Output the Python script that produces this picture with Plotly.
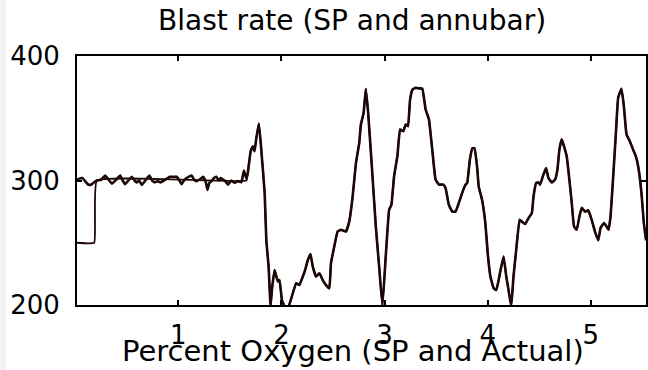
import plotly.graph_objects as go

# Axis ticks
x_ticks = [1, 2, 3, 4, 5]
y_ticks = [200, 300, 400]

# Actual (annubar) – noisy steady section
x_flat = [0.017, 0.04, 0.07, 0.10, 0.13, 0.16, 0.19, 0.21, 0.25, 0.29, 0.32, 0.355, 0.39,
          0.436, 0.46, 0.484, 0.515, 0.548, 0.575, 0.597, 0.62, 0.645, 0.68, 0.719, 0.745,
          0.774, 0.80, 0.822, 0.86, 0.918, 0.95, 0.983, 1.01, 1.031, 1.055, 1.079, 1.128,
          1.15, 1.176, 1.21, 1.24, 1.265, 1.282, 1.30, 1.321, 1.345, 1.369, 1.39, 1.41,
          1.43, 1.45, 1.482, 1.514, 1.546, 1.579, 1.611, 1.636, 1.659]
y_flat = [300.5, 301.5, 302, 299, 296.5, 297, 299, 300, 300.5, 304, 301, 297.5, 300,
          304, 300, 297, 300, 303, 300, 298.5, 300, 296.5, 300, 304, 300,
          298.5, 299.5, 298.5, 300, 303, 303, 303, 300, 297, 300, 302, 304,
          301, 299.5, 301, 303, 299, 292.5, 298, 299.5, 302, 303, 300, 302,
          301, 300, 296.7, 300, 298, 299.5, 298.5, 308, 301.5]

# Setpoint – step section before it tracks
x_sp_head = [0.017, 0.184, 0.21, 1.66]
y_sp_head = [250, 250, 300, 300]

# Dynamic section (both SP and annubar overlap)
x_dyn = [1.675, 1.701, 1.723, 1.739, 1.756, 1.781, 1.804, 1.837, 1.853, 1.875, 1.894,
         1.907, 1.933, 1.965, 1.981, 2.004, 2.03, 2.069, 2.10, 2.142, 2.174, 2.197, 2.229,
         2.255, 2.281, 2.303, 2.335, 2.368, 2.40, 2.432, 2.464, 2.48, 2.512, 2.544, 2.577,
         2.625, 2.657, 2.69, 2.722, 2.754, 2.77, 2.796, 2.818, 2.841, 2.883, 2.915, 2.947,
         2.979, 3.011, 3.044, 3.066, 3.092, 3.124, 3.15, 3.182, 3.204, 3.227, 3.247, 3.27,
         3.301, 3.334, 3.366, 3.398, 3.43, 3.462, 3.494, 3.527, 3.569, 3.591, 3.623, 3.656,
         3.688, 3.72, 3.752, 3.785, 3.801, 3.827, 3.852, 3.871, 3.897, 3.913, 3.945, 3.977,
         4.0, 4.026, 4.058, 4.083, 4.106, 4.122, 4.154, 4.18, 4.202, 4.228, 4.25, 4.276,
         4.309, 4.331, 4.363, 4.396, 4.428, 4.444, 4.47, 4.492, 4.508, 4.54, 4.566, 4.589,
         4.621, 4.653, 4.676, 4.695, 4.718, 4.74, 4.766, 4.792, 4.815, 4.837, 4.863, 4.889,
         4.912, 4.944, 4.976, 5.008, 5.04, 5.072, 5.094, 5.127, 5.153, 5.172, 5.191, 5.217,
         5.243, 5.265, 5.297, 5.32, 5.346, 5.378, 5.41, 5.436, 5.459, 5.491, 5.514, 5.536]
y_dyn = [307, 323.5, 327.5, 323.5, 334, 345.8, 324.8, 290, 252, 231, 199,
         212, 228, 219, 220, 204, 199, 199, 206.7, 217.5, 216, 220.7, 228,
         236, 241, 231, 222.8, 225.5, 220, 216, 213.4, 233.6, 247, 259, 260.4,
         259, 267, 287, 314, 330, 345, 354, 373.7, 354, 303, 263, 231,
         199, 239, 276.5, 280.5, 303.4, 319.5, 341, 339.6, 345, 343.6, 365, 373,
         374.5, 374, 373.7, 357, 349, 325, 300.7, 296.7, 296.7, 294, 280.5, 275,
         275, 282, 290, 296.7, 298, 316.8, 326, 326, 311, 295, 284.6, 265.8,
         241.6, 222.8, 213.4, 212, 220, 227, 239, 222.8, 212, 199, 222.8, 244,
         268.5, 267, 265, 269.8, 273.8, 287, 298, 298.5, 296.7, 304.7, 310, 302,
         298.5, 300.7, 308.7, 324.8, 333, 327.5, 319.5, 300.7, 282, 263, 260.4, 271,
         278, 275, 276, 268.5, 259, 252, 261.8, 265.8, 263, 260.4, 271, 303.4,
         338, 366.5, 373.7, 360, 337, 331.6, 324.8, 319.5, 311.4, 290, 265.8, 252]

FONT = "DejaVu Sans"
line_col = "#1e0707"

fig = go.Figure()
fig.add_trace(go.Scatter(x=x_sp_head + x_dyn, y=y_sp_head + y_dyn, mode="lines",
                         line=dict(color=line_col, width=1.8, shape="spline", smoothing=0.3),
                         name="SP", showlegend=False))
fig.add_trace(go.Scatter(x=x_flat + x_dyn, y=y_flat + y_dyn, mode="lines",
                         line=dict(color=line_col, width=2.6, shape="spline", smoothing=0.3),
                         name="annubar", showlegend=False))

fig.update_layout(
    width=648, height=370,
    margin=dict(l=77, r=0, t=56, b=65),
    paper_bgcolor="white", plot_bgcolor="white",
    font=dict(family=FONT, color="black", size=26),
    xaxis=dict(range=[0.017, 5.535], tickvals=x_ticks, ticktext=[str(t) for t in x_ticks],
               ticks="inside", ticklen=5, tickwidth=1.5, tickcolor="black",
               showline=True, linecolor="black", linewidth=1.8, mirror="ticks",
               showgrid=False, zeroline=False,
               tickfont=dict(family=FONT, size=26), ticklabelstandoff=6),
    yaxis=dict(range=[200, 400], tickvals=y_ticks, ticktext=[str(t) for t in y_ticks],
               ticks="inside", ticklen=5, tickwidth=1.5, tickcolor="black",
               showline=True, linecolor="black", linewidth=1.8, mirror="ticks",
               showgrid=False, zeroline=False,
               tickfont=dict(family=FONT, size=26), ticklabelstandoff=10),
    annotations=[
        dict(text="Blast rate (SP and annubar)", xref="paper", yref="paper",
             x=(353 - 77) / 571, y=1, xanchor="center", yanchor="middle",
             yshift=36, showarrow=False, font=dict(family=FONT, size=28, color="black")),
        dict(text="Percent Oxygen (SP and Actual)", xref="paper", yref="paper",
             x=(354 - 77) / 571, y=0, xanchor="center", yanchor="middle",
             yshift=-46, showarrow=False, font=dict(family=FONT, size=29, color="black")),
    ],
    shapes=[dict(type="rect", xref="paper", yref="paper", x0=-77 / 571, x1=-71 / 571,
                 y0=-65 / 249, y1=314 / 249, fillcolor="#f2f2f2", line=dict(width=0),
                 layer="below")],
)

fig.write_html("out.html")
